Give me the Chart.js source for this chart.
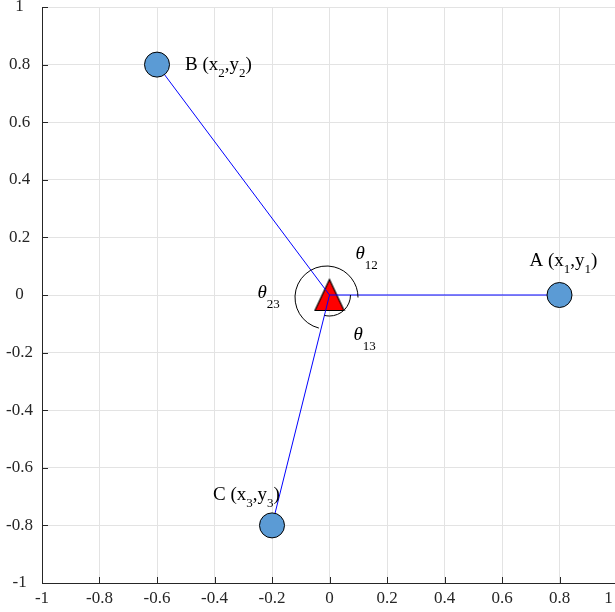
<!DOCTYPE html>
<html>
<head>
<meta charset="utf-8">
<title>Fermat point</title>
<script src="https://cdn.jsdelivr.net/npm/chart.js@4.4.0/dist/chart.umd.min.js"></script>
<style>
body {
	margin: 0;
	background: #fff;
}
#wrap {
	width: 615px;
	height: 612px;
	overflow: hidden;
}
</style>
</head>
<body>
<div id="wrap"><canvas id="myChart" width="618" height="612"></canvas></div>
<script>
// data
var names = ['A', 'B', 'C'];
var subs = ['1', '2', '3'];
var ptX = [0.8, -0.6, -0.2];
var ptY = [0, 0.8, -0.8];
var centerX = [0];
var centerY = [0];
var angleNames = ['12', '23', '13'];
var tickVals = [-1, -0.8, -0.6, -0.4, -0.2, 0, 0.2, 0.4, 0.6, 0.8, 1];

var serif = 'Liberation Serif';

// triangle marker for the centre point
var tri = document.createElement('canvas');
tri.width = 32;
tri.height = 34;
var tctx = tri.getContext('2d');
tctx.beginPath();
tctx.moveTo(16, 1.5);
tctx.lineTo(30.5, 32.5);
tctx.lineTo(1.5, 32.5);
tctx.closePath();
tctx.fillStyle = '#ff0000';
tctx.fill();
tctx.strokeStyle = '#000';
tctx.lineWidth = 1.2;
tctx.stroke();

function drawParts(ctx, x, y, parts, size, subSize, drop, align) {
	var w = 0;
	parts.forEach(function(p) {
		ctx.font = p.sub ? subSize + 'px ' + serif : (p.it ? 'italic ' : '') + size + 'px ' + serif;
		w += ctx.measureText(p.t).width;
	});
	if (align === 'center') x -= w / 2;
	ctx.textAlign = 'left';
	ctx.textBaseline = 'alphabetic';
	ctx.fillStyle = '#000';
	parts.forEach(function(p) {
		ctx.font = p.sub ? subSize + 'px ' + serif : (p.it ? 'italic ' : '') + size + 'px ' + serif;
		ctx.fillText(p.t, x, p.sub ? y + drop : y);
		x += ctx.measureText(p.t).width;
	});
}

var extras = {
	id: 'extras',
	afterDatasetsDraw: function(chart) {
		var ctx = chart.ctx, xs = chart.scales.x, ys = chart.scales.y, area = chart.chartArea;
		ctx.save();

		// inward tick marks
		ctx.strokeStyle = '#262626';
		ctx.lineWidth = 1;
		ctx.beginPath();
		xs.ticks.forEach(function(t) {
			var px = Math.round(xs.getPixelForValue(t.value)) + 0.5;
			ctx.moveTo(px, area.bottom);
			ctx.lineTo(px, area.bottom - 6);
		});
		ys.ticks.forEach(function(t) {
			var py = Math.round(ys.getPixelForValue(t.value)) + 0.5;
			ctx.moveTo(area.left, py);
			ctx.lineTo(area.left + 6, py);
		});
		ctx.stroke();

		// angle arcs
		var cx = xs.getPixelForValue(centerX[0]), cy = ys.getPixelForValue(centerY[0]);
		var aA = Math.atan2(ys.getPixelForValue(ptY[0]) - cy, xs.getPixelForValue(ptX[0]) - cx);
		var aC = Math.atan2(ys.getPixelForValue(ptY[2]) - cy, xs.getPixelForValue(ptX[2]) - cx);
		ctx.strokeStyle = '#000';
		ctx.beginPath();
		ctx.arc(cx - 3, cy + 2.5, 31.5, aC, aA + 2 * Math.PI);
		ctx.stroke();
		ctx.beginPath();
		ctx.arc(cx, cy, 21, aA, aC);
		ctx.stroke();

		// point labels
		var offs = [[4, -29, 'center'], [28, 5, 'left'], [-59, -25, 'left']];
		names.forEach(function(n, i) {
			var px = xs.getPixelForValue(ptX[i]), py = ys.getPixelForValue(ptY[i]);
			drawParts(ctx, px + offs[i][0], py + offs[i][1], [
				{t: n + ' (x'}, {t: subs[i], sub: true}, {t: ',y'}, {t: subs[i], sub: true}, {t: ')'}
			], 19, 13, 7, offs[i][2]);
		});

		// angle labels
		var aoffs = [[26, -36.5], [-72, 2.5], [24, 45]];
		angleNames.forEach(function(n, i) {
			drawParts(ctx, cx + aoffs[i][0], cy + aoffs[i][1], [
				{t: '\u03b8', it: true}, {t: n, sub: true}
			], 19, 13, 10, 'left');
		});
		ctx.restore();
	}
};

var lineSets = ptX.map(function(x, i) {
	return {
		data: [{x: x, y: ptY[i]}, {x: centerX[0], y: centerY[0]}],
		showLine: true,
		borderColor: '#0000ff',
		borderWidth: 1,
		pointRadius: 0,
		order: 1
	};
});

var tickFmt = function(v) {
	return String(Math.round(v * 10) / 10);
};

new Chart(document.getElementById('myChart'), {
	type: 'scatter',
	data: {
		datasets: [{
			data: ptX.map(function(x, i) { return {x: x, y: ptY[i]}; }),
			pointRadius: 12.5,
			pointBackgroundColor: '#5b9bd5',
			pointBorderColor: '#000',
			pointBorderWidth: 1,
			order: 0
		}].concat(lineSets).concat([{
			data: [{x: centerX[0], y: centerY[0]}],
			pointStyle: tri,
			pointRadius: 16,
			order: 2
		}])
	},
	options: {
		responsive: false,
		animation: false,
		layout: {autoPadding: false, padding: {left: 0, top: 7, right: 1, bottom: 0}},
		plugins: {legend: {display: false}, tooltip: {enabled: false}},
		scales: {
			x: {
				type: 'linear', min: -1, max: 1,
				afterBuildTicks: function(s) { s.ticks = tickVals.map(function(v) { return {value: v}; }); },
				afterFit: function(s) { s.height = 29; s.paddingLeft = 0; s.paddingRight = 0; },
				grid: {color: '#e3e3e3', drawTicks: false},
				border: {color: '#262626'},
				ticks: {
					font: {family: serif, size: 17, lineHeight: 0.8}, color: '#262626',
					padding: 9, maxRotation: 0, autoSkip: false,
					// last label sits at the window edge, pad it so it stays inside
					callback: function(v) { return v === 1 ? '1\u2003' : tickFmt(v); }
				}
			},
			y: {
				type: 'linear', min: -1, max: 1,
				afterBuildTicks: function(s) { s.ticks = tickVals.map(function(v) { return {value: v}; }); },
				afterFit: function(s) { s.width = 42; s.paddingTop = 0; s.paddingBottom = 0; },
				grid: {color: '#e3e3e3', drawTicks: false},
				border: {color: '#262626'},
				ticks: {
					font: {family: serif, size: 17, lineHeight: 0.8}, color: '#262626',
					padding: 9, crossAlign: 'center', autoSkip: false, callback: tickFmt
				}
			}
		}
	},
	plugins: [extras]
});
</script>
</body>
</html>
